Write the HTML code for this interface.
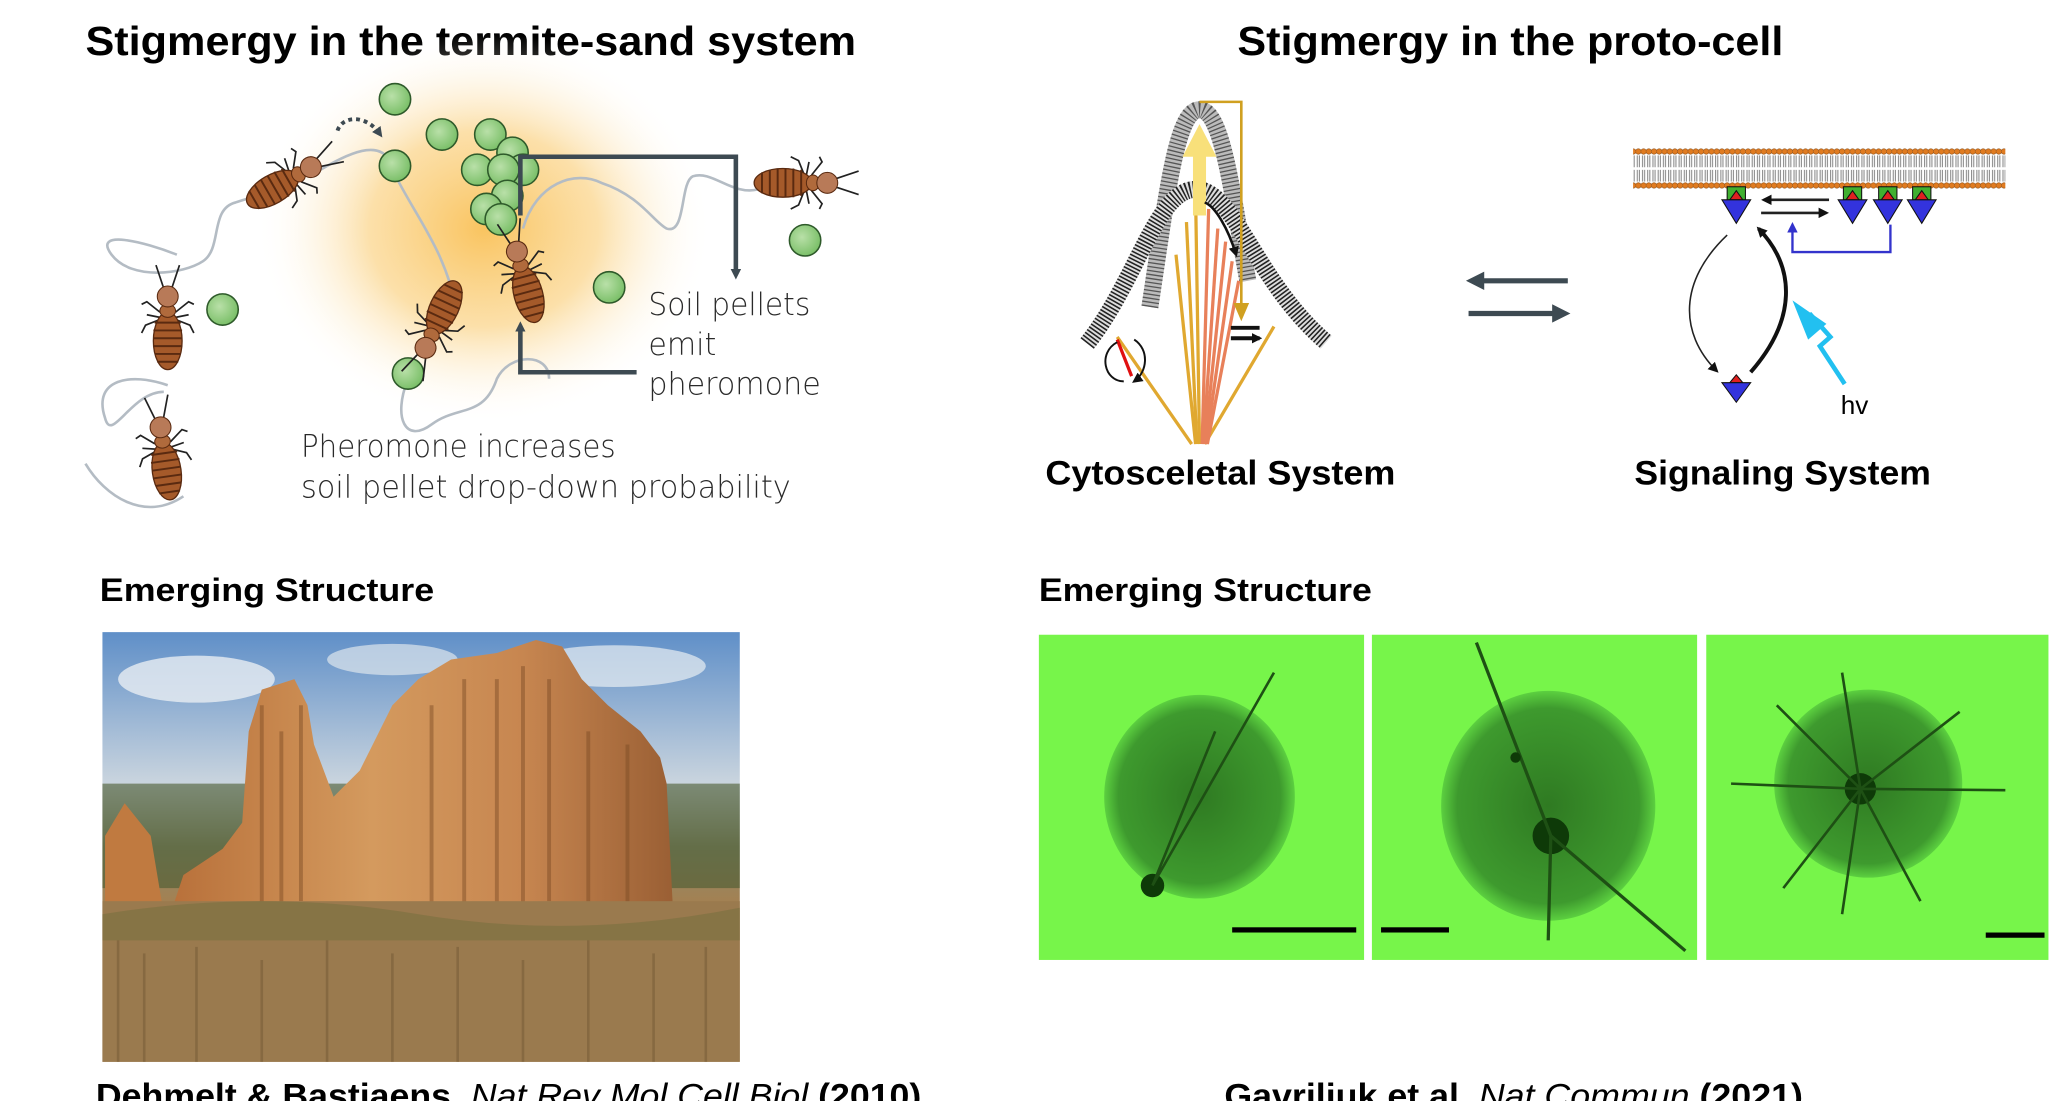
<!DOCTYPE html>
<html><head><meta charset="utf-8"><style>html,body{margin:0;padding:0;background:#fff;overflow:hidden}svg{display:block}</style></head><body>
<svg width="2049" height="1101" viewBox="0 0 1568 843" xmlns="http://www.w3.org/2000/svg" font-family="Liberation Sans, sans-serif">
<defs>
<radialGradient id="glow" cx="0.5" cy="0.5" r="0.5"><stop offset="0" stop-color="#f9c460"/><stop offset="0.5" stop-color="#fbd894" stop-opacity="0.8"/><stop offset="1" stop-color="#fff" stop-opacity="0"/></radialGradient>
<radialGradient id="ball" cx="0.4" cy="0.4" r="0.6"><stop offset="0" stop-color="#b9e0a8"/><stop offset="1" stop-color="#7cc06a"/></radialGradient>
<radialGradient id="cell" cx="0.5" cy="0.5" r="0.5"><stop offset="0" stop-color="#2f7a22"/><stop offset="0.85" stop-color="#3e9a2e"/><stop offset="1" stop-color="#5cd040"/></radialGradient>
<linearGradient id="sky" x1="0" y1="0" x2="0" y2="1"><stop offset="0" stop-color="#5f8fc8"/><stop offset="0.35" stop-color="#c9d4de"/><stop offset="0.5" stop-color="#8c8c6c"/><stop offset="0.7" stop-color="#b07a44"/><stop offset="1" stop-color="#a27f52"/></linearGradient>
<linearGradient id="mound" x1="0" y1="0" x2="1" y2="0"><stop offset="0" stop-color="#b8703a"/><stop offset="0.4" stop-color="#d49a5e"/><stop offset="0.7" stop-color="#c78650"/><stop offset="1" stop-color="#9a5f34"/></linearGradient>
<pattern id="lip" x="0" y="113" width="4" height="32" patternUnits="userSpaceOnUse"><rect width="4" height="32" fill="#fff"/><path d="M1.2,6 V15 M2.8,6 V15 M1.2,17 V26 M2.8,17 V26" stroke="#777" stroke-width="0.7"/><circle cx="2" cy="3" r="2.1" fill="#e07b20" stroke="#8a4a10" stroke-width="0.4"/><circle cx="2" cy="29" r="2.1" fill="#e07b20" stroke="#8a4a10" stroke-width="0.4"/></pattern>
<g id="termite">
<path d="M-3,-24 L-9,-42 M3,-24 L9,-42 M-6,-6 L-16,-14 L-20,-12 M6,-6 L16,-14 L20,-12 M-7,0 L-17,4 L-20,10 M7,0 L17,4 L20,10 M-6,-2 L-16,-4 M6,-2 L16,-4" stroke="#222" stroke-width="1.3" fill="none"/>
<ellipse cx="0" cy="16" rx="11" ry="22" fill="#a55a2a" stroke="#5a2a10" stroke-width="1"/>
<path d="M-10,2 H10 M-11,8 H11 M-11,14 H11 M-11,20 H11 M-10,26 H10 M-8,32 H8" stroke="#5a2a10" stroke-width="1.5"/>
<ellipse cx="0" cy="-7" rx="6" ry="5" fill="#b06a3c" stroke="#5a2a10" stroke-width="0.8"/>
<circle cx="0" cy="-18" r="8" fill="#b87a58" stroke="#5a2a10" stroke-width="0.8"/>
</g>
<g id="prot" stroke="#111" stroke-width="0.8"><rect x="-7" y="-14" width="14" height="10" fill="#40b030"/><path d="M-5,-4 L0,-11 L5,-4z" fill="#e02020"/><path d="M-11,-4 H11 L0,14z" fill="#3333dd"/></g>
<marker id="ah" markerWidth="8" markerHeight="8" refX="4" refY="4" orient="auto" markerUnits="userSpaceOnUse"><path d="M0,0 L8,4 L0,8z" fill="#3d4a52"/></marker>
<marker id="ahb" markerWidth="8" markerHeight="8" refX="6" refY="4" orient="auto" markerUnits="userSpaceOnUse"><path d="M0,0 L8,4 L0,8z" fill="#111"/></marker>
<marker id="ahblue" markerWidth="8" markerHeight="8" refX="6" refY="4" orient="auto" markerUnits="userSpaceOnUse"><path d="M0,0 L8,4 L0,8z" fill="#3333cc"/></marker>
</defs>

<text x="65" y="42" font-size="31" font-weight="bold" textLength="590" lengthAdjust="spacingAndGlyphs">Stigmergy in the termite-sand system</text>
<text x="947" y="42" font-size="31" font-weight="bold" textLength="418" lengthAdjust="spacingAndGlyphs">Stigmergy in the proto-cell</text>

<ellipse cx="370" cy="175" rx="175" ry="150" fill="url(#glow)"/>
<g fill="none" stroke="#b4bcc4" stroke-width="2">
<path d="M65,355 C80,380 110,400 140,380 M128,295 C100,285 70,290 80,320 C85,340 100,300 125,300"/>
<path d="M135,195 C110,185 70,175 85,195 C100,215 140,210 155,200 C170,190 160,160 180,155 C195,150 200,150 205,140"/>
<path d="M245,130 C270,115 295,105 300,130 C320,170 340,190 350,240"/>
<path d="M312,290 C300,320 310,340 330,325 C350,310 370,320 380,290 C390,270 420,270 420,290"/>
<path d="M400,175 C410,140 440,130 460,140 C490,150 500,170 510,175 C525,180 520,140 530,135 C545,130 560,150 580,145"/>
</g>
<path d="M258,100 C262,88 280,88 290,102" fill="none" stroke="#3d4a52" stroke-width="3" stroke-dasharray="3 3" marker-end="url(#ah)"/>
<g fill="url(#ball)" stroke="#2e5a2a" stroke-width="1.2">
<circle cx="302" cy="76" r="12"/><circle cx="338" cy="103" r="12"/><circle cx="302" cy="127" r="12"/><circle cx="375" cy="103" r="12"/><circle cx="392" cy="117" r="12"/><circle cx="400" cy="130" r="12"/><circle cx="365" cy="130" r="12"/><circle cx="385" cy="130" r="12"/><circle cx="388" cy="150" r="12"/><circle cx="372" cy="160" r="12"/><circle cx="383" cy="168" r="12"/><circle cx="466" cy="220" r="12"/><circle cx="616" cy="184" r="12"/><circle cx="170" cy="237" r="12"/><circle cx="312" cy="286" r="12"/>
</g>
<use href="#termite" transform="translate(222,137) rotate(60)"/>
<use href="#termite" transform="translate(128,245)"/>
<use href="#termite" transform="translate(125,345) rotate(-8)"/>
<use href="#termite" transform="translate(333,250) rotate(205)"/>
<use href="#termite" transform="translate(400,210) rotate(-15)"/>
<use href="#termite" transform="translate(615,140) rotate(90)"/>
<path d="M398,165 V120 H563 V210" fill="none" stroke="#3d4a52" stroke-width="3.5" marker-end="url(#ah)"/>
<path d="M487,285 H398 V250" fill="none" stroke="#3d4a52" stroke-width="3.5" marker-end="url(#ah)"/>
<g font-size="24" fill="#2a2a2a" font-family="DejaVu Sans, sans-serif" font-weight="300">
<text x="496" y="241" textLength="124" lengthAdjust="spacingAndGlyphs">Soil pellets</text>
<text x="496" y="272" textLength="52" lengthAdjust="spacingAndGlyphs">emit</text>
<text x="496" y="302" textLength="132" lengthAdjust="spacingAndGlyphs">pheromone</text>
<text x="230" y="350" textLength="241" lengthAdjust="spacingAndGlyphs">Pheromone increases</text>
<text x="230" y="381" textLength="375" lengthAdjust="spacingAndGlyphs">soil pellet drop-down probability</text>
</g>

<g fill="none">
<path d="M880,235 C893,150 900,84 918,84 C936,84 943,150 955,215" stroke="#bbb" stroke-width="13"/>
<path d="M880,235 C893,150 900,84 918,84 C936,84 943,150 955,215" stroke="#555" stroke-width="13" stroke-dasharray="1 2"/>
<path d="M832,263 C870,215 885,145 915,145 C945,145 960,215 1015,262" stroke="#ddd" stroke-width="13"/>
<path d="M832,263 C870,215 885,145 915,145 C945,145 960,215 1015,262" stroke="#222" stroke-width="13" stroke-dasharray="1.2 1.5"/>
</g>
<g stroke="#e0a830" stroke-width="2.5">
<line x1="912" y1="340" x2="855" y2="258"/><line x1="915" y1="340" x2="900" y2="195"/><line x1="916" y1="340" x2="908" y2="170"/><line x1="918" y1="340" x2="915" y2="150"/><line x1="922" y1="340" x2="975" y2="250"/>
</g>
<g stroke="#e8805a" stroke-width="2.5">
<line x1="920" y1="340" x2="925" y2="160"/><line x1="921" y1="340" x2="932" y2="175"/><line x1="922" y1="340" x2="938" y2="185"/><line x1="923" y1="340" x2="943" y2="200"/><line x1="924" y1="340" x2="948" y2="215"/>
</g>
<path d="M918,165 V118" stroke="#f8e07a" stroke-width="10"/>
<path d="M905,120 L918,95 L931,120z" fill="#f8e07a"/>
<path d="M918,78 H950 V235" fill="none" stroke="#d0a020" stroke-width="2"/>
<path d="M944,232 L950,246 L956,232z" fill="#d0a020"/>
<path d="M922,155 C930,158 940,175 946,195" fill="none" stroke="#111" stroke-width="2" marker-end="url(#ahb)"/>
<line x1="855" y1="260" x2="866" y2="288" stroke="#e01010" stroke-width="2.5"/>
<path d="M855,262 C840,270 845,292 860,292 M868,260 C880,268 878,285 868,292" fill="none" stroke="#111" stroke-width="1.5" marker-end="url(#ahb)"/>
<path d="M964,251 H942 M942,259 H964" stroke="#111" stroke-width="3" marker-end="url(#ahb)"/>
<text x="800" y="371" font-size="26" font-weight="bold" textLength="268" lengthAdjust="spacingAndGlyphs">Cytosceletal System</text>

<path d="M1200,215 H1130" stroke="#3d4a52" stroke-width="4"/><path d="M1136,208 L1122,215 L1136,222z" fill="#3d4a52"/>
<path d="M1124,240 H1194" stroke="#3d4a52" stroke-width="4"/><path d="M1188,233 L1202,240 L1188,247z" fill="#3d4a52"/>

<rect x="1250" y="113" width="285" height="32" fill="url(#lip)"/>
<use href="#prot" transform="translate(1329,157)"/><use href="#prot" transform="translate(1418,157)"/><use href="#prot" transform="translate(1445,157)"/><use href="#prot" transform="translate(1471,157)"/>
<g stroke="#111" stroke-width="0.8"><path d="M1324,293 L1329,287 L1334,293z" fill="#e02020"/><path d="M1318,293 H1340 L1329,308z" fill="#3333dd"/></g>
<path d="M1400,153 H1350" stroke="#222" stroke-width="2" marker-end="url(#ahb)"/>
<path d="M1348,163 H1398" stroke="#222" stroke-width="2" marker-end="url(#ahb)"/>
<path d="M1447,172 V193 H1372 V172" fill="none" stroke="#3333cc" stroke-width="1.8" marker-end="url(#ahblue)"/>
<path d="M1322,180 C1285,215 1285,255 1314,284" fill="none" stroke="#222" stroke-width="1.2" marker-end="url(#ahb)"/>
<path d="M1340,285 C1375,245 1375,205 1346,175" fill="none" stroke="#111" stroke-width="3" marker-end="url(#ahb)"/>
<path d="M1412,294 L1393,265 L1401,258 L1385,240" fill="none" stroke="#22c0f0" stroke-width="3.5"/>
<path d="M1372,230 L1398,248 L1384,260z" fill="#22c0f0"/>
<text x="1409" y="317" font-size="20">hv</text>
<text x="1251" y="371" font-size="26" font-weight="bold" textLength="227" lengthAdjust="spacingAndGlyphs">Signaling System</text>

<text x="76" y="460" font-size="25" font-weight="bold" textLength="256" lengthAdjust="spacingAndGlyphs">Emerging Structure</text>
<text x="795" y="460" font-size="25" font-weight="bold" textLength="255" lengthAdjust="spacingAndGlyphs">Emerging Structure</text>

<rect x="78" y="484" width="488" height="329" fill="url(#sky)"/>
<ellipse cx="150" cy="520" rx="60" ry="18" fill="#e8eef2" opacity="0.8"/><ellipse cx="470" cy="510" rx="70" ry="16" fill="#e8eef2" opacity="0.7"/><ellipse cx="300" cy="505" rx="50" ry="12" fill="#dde5ec" opacity="0.7"/>
<rect x="78" y="600" width="488" height="80" fill="#4a5a30" opacity="0.6"/>
<path d="M80,640 L95,615 L115,640 L125,700 L80,720z" fill="#c07a40"/>
<path d="M130,700 L140,670 L155,660 L170,650 L185,630 L190,560 L200,528 L225,520 L235,540 L240,570 L255,610 L265,600 L275,590 L285,570 L290,560 L300,540 L320,520 L345,505 L380,500 L410,490 L430,495 L445,520 L465,540 L490,560 L505,580 L510,600 L515,700 L130,720z" fill="url(#mound)"/>
<path d="M200,540 V700 M215,560 V700 M230,540 V690 M330,540 V700 M355,520 V700 M380,520 V700 M400,510 V700 M420,520 V690 M450,560 V700 M480,570 V700" stroke="#7a4a24" stroke-width="3" opacity="0.45"/>
<rect x="78" y="690" width="488" height="123" fill="#9a7a4e"/>
<path d="M78,700 Q200,680 320,700 T566,695 V720 H78z" fill="#7a7040" opacity="0.6"/>
<path d="M90,813 V720 M110,813 V730 M150,813 V725 M200,813 V735 M250,813 V720 M300,813 V730 M350,813 V725 M400,813 V735 M450,813 V720 M500,813 V730 M540,813 V725" stroke="#6a5030" stroke-width="2" opacity="0.4"/>

<rect x="795" y="486" width="249" height="249" fill="#77f54a"/>
<rect x="1050" y="486" width="249" height="249" fill="#77f54a"/>
<rect x="1306" y="486" width="262" height="249" fill="#77f54a"/>
<ellipse cx="918" cy="610" rx="73" ry="78" fill="url(#cell)"/>
<circle cx="882" cy="678" r="9" fill="#0e3a08"/>
<path d="M882,678 L975,515 M882,678 L930,560" stroke="#1e5014" stroke-width="2" fill="none"/>
<ellipse cx="1185" cy="617" rx="82" ry="88" fill="url(#cell)"/>
<circle cx="1187" cy="640" r="14" fill="#0e3a08"/>
<path d="M1130,492 L1187,640 L1290,728 M1187,640 L1185,720" stroke="#1e5014" stroke-width="2.5" fill="none"/>
<circle cx="1160" cy="580" r="4" fill="#0e3a08"/>
<circle cx="1430" cy="600" r="72" fill="url(#cell)"/>
<circle cx="1424" cy="604" r="12" fill="#0e3a08"/>
<path d="M1424,604 L1410,515 M1424,604 L1360,540 M1424,604 L1325,600 M1424,604 L1365,680 M1424,604 L1470,690 M1424,604 L1535,605 M1424,604 L1500,545 M1424,604 L1410,700" stroke="#1e5014" stroke-width="2" fill="none"/>
<rect x="943" y="710" width="95" height="4" fill="#000"/>
<rect x="1057" y="710" width="52" height="4" fill="#000"/>
<rect x="1520" y="714" width="45" height="4" fill="#000"/>

<text x="73" y="848" font-size="26" textLength="632" lengthAdjust="spacingAndGlyphs"><tspan font-weight="bold">Dehmelt &amp; Bastiaens</tspan>, <tspan font-style="italic">Nat Rev Mol Cell Biol</tspan> <tspan font-weight="bold">(2010)</tspan></text>
<text x="937" y="848" font-size="26" textLength="443" lengthAdjust="spacingAndGlyphs"><tspan font-weight="bold">Gavriliuk et al.</tspan> <tspan font-style="italic">Nat Commun</tspan> <tspan font-weight="bold">(2021)</tspan></text>
</svg>
</body></html>
